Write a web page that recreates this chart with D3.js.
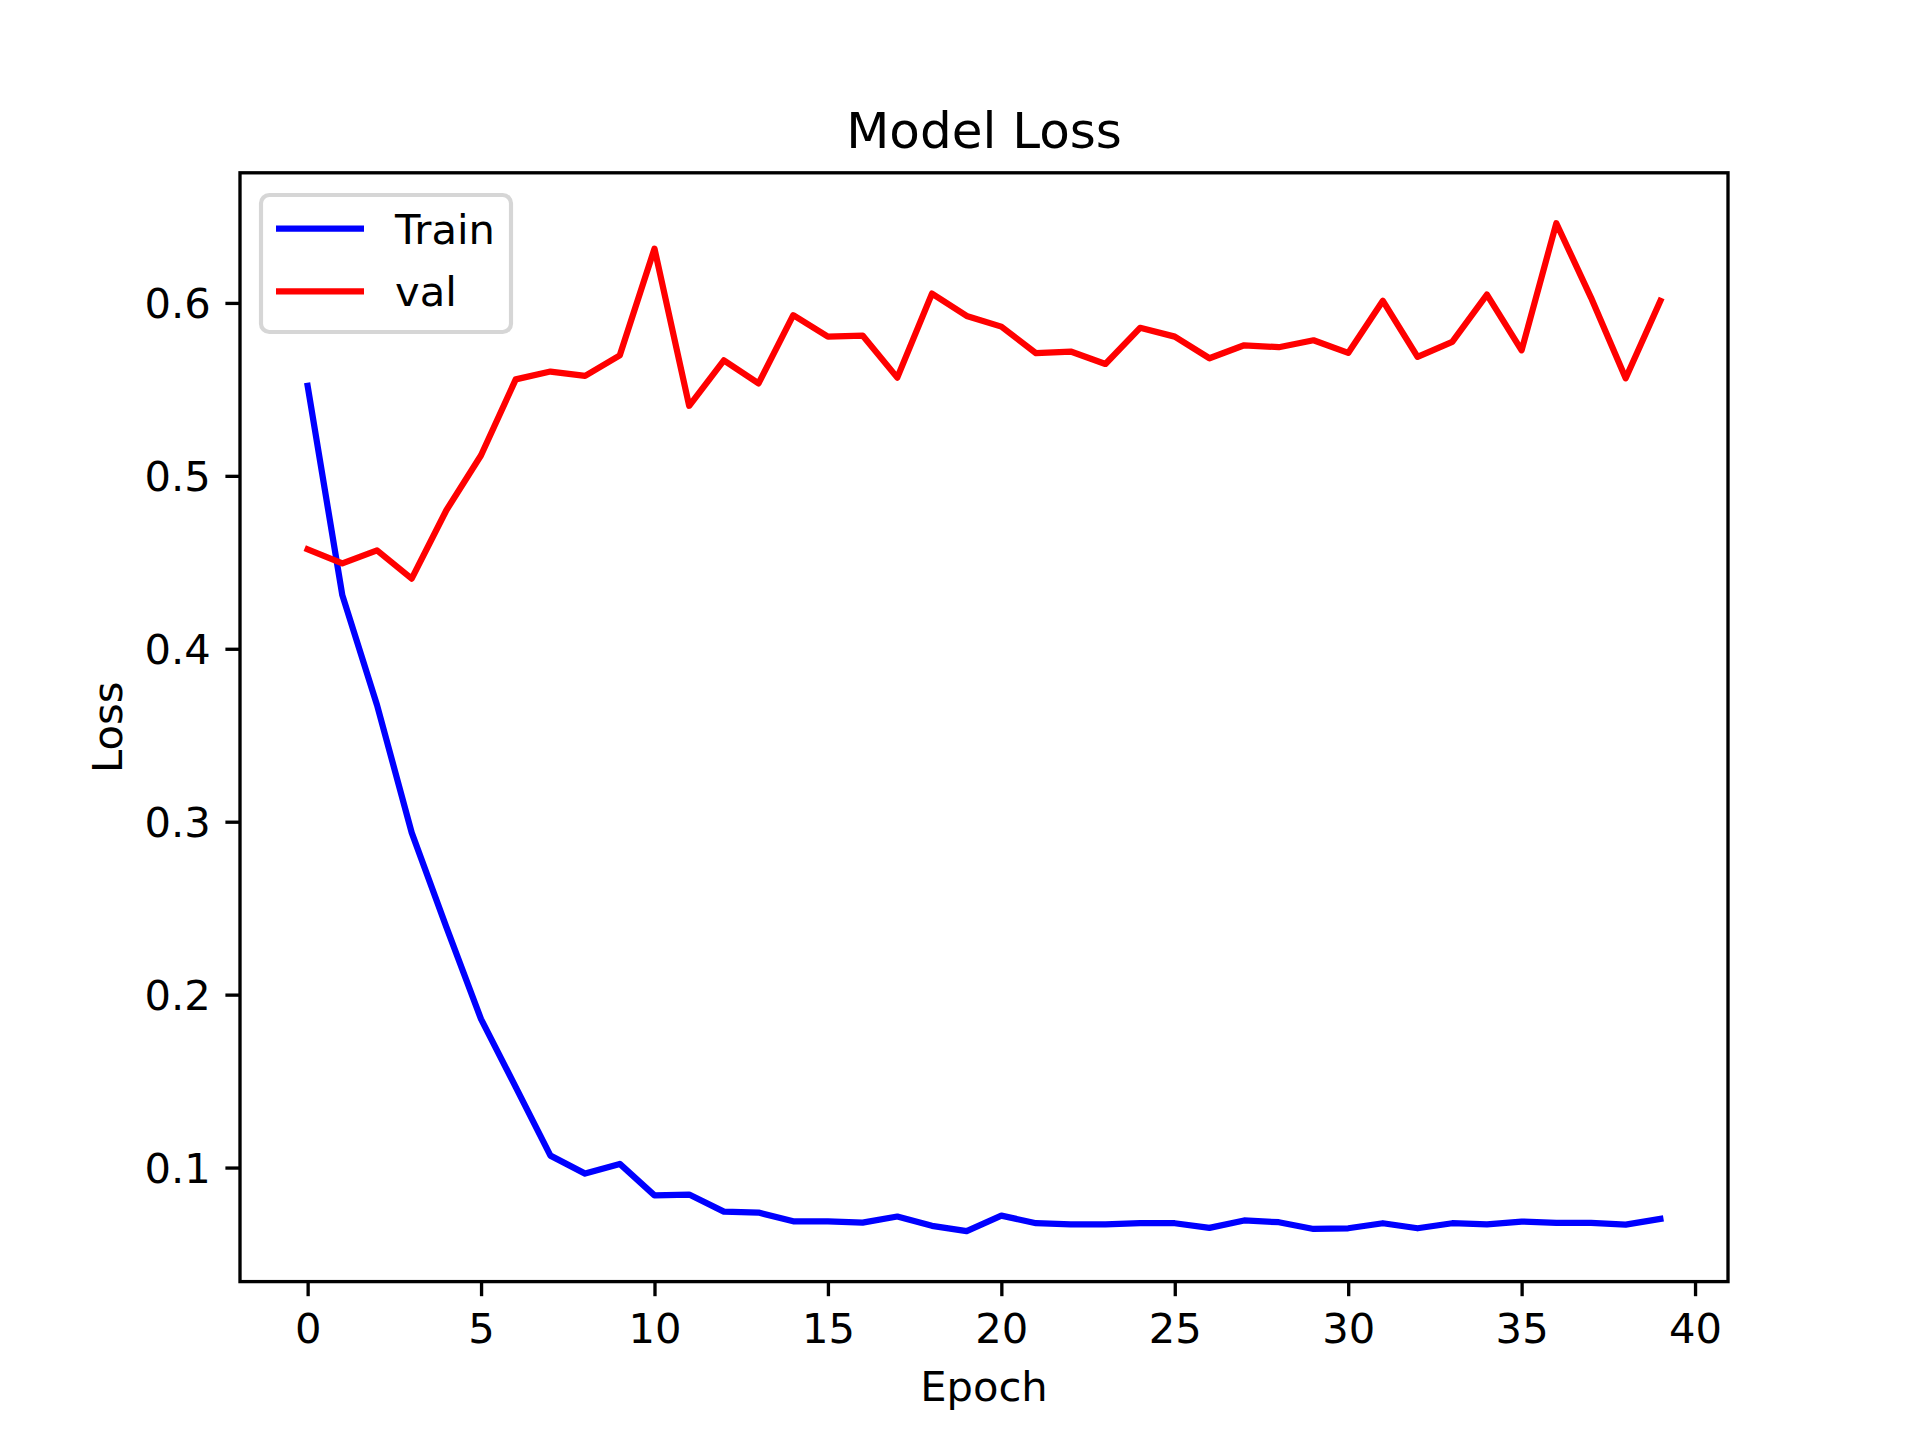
<!DOCTYPE html>
<html>
<head>
<meta charset="utf-8">
<script src="https://cdn.jsdelivr.net/npm/d3@7"></script>
<style>
  html, body { margin: 0; padding: 0; background: #fff; }
  svg { display: block; font-family: "DejaVu Sans", sans-serif; }
</style>
</head>
<body>
<svg id="chart" width="1920" height="1440"></svg>
<script>
const epochs = d3.range(40);
const trainLoss = [0.552, 0.431, 0.3675, 0.2937, 0.239, 0.1858, 0.1465, 0.1069, 0.0965, 0.1021,
  0.0839, 0.0844, 0.0745, 0.074, 0.0689, 0.0689, 0.0682, 0.0717, 0.0663, 0.0632,
  0.0722, 0.0678, 0.0672, 0.0672, 0.0678, 0.0678, 0.0651, 0.0694, 0.0684, 0.0645,
  0.0649, 0.0678, 0.0649, 0.0678, 0.0672, 0.0688, 0.068, 0.068, 0.067, 0.0703];
const valLoss = [0.4575, 0.4494, 0.4569, 0.4406, 0.4801, 0.5119, 0.5558, 0.5603, 0.5578, 0.5697,
  0.6314, 0.5405, 0.5668, 0.5535, 0.5929, 0.5805, 0.5811, 0.5568, 0.6054, 0.5925,
  0.5863, 0.5709, 0.5719, 0.5647, 0.5856, 0.5805, 0.568, 0.5755, 0.5744, 0.5784,
  0.5711, 0.6012, 0.5688, 0.5775, 0.6048, 0.5726, 0.6461, 0.6031, 0.5564, 0.6012];
const xTicks = [0, 5, 10, 15, 20, 25, 30, 35, 40];
const yTicks = [0.1, 0.2, 0.3, 0.4, 0.5, 0.6];
const seriesNames = ["Train", "val"];
const seriesColors = ["#0000ff", "#ff0000"];

const W = 1920, H = 1440;
const mLeft = 240, mRight = 1728, mTop = 172.8, mBottom = 1281.6;
const svg = d3.select("#chart");

// matplotlib-like 5% margins
const xMin = d3.min(epochs), xMax = d3.max(epochs);
const xPad = (xMax - xMin) * 0.05;
const allY = trainLoss.concat(valLoss);
const yMin = d3.min(allY), yMax = d3.max(allY);
const yPad = (yMax - yMin) * 0.05;

const x = d3.scaleLinear().domain([xMin - xPad, xMax + xPad]).range([mLeft, mRight]);
const y = d3.scaleLinear().domain([yMin - yPad, yMax + yPad]).range([mBottom, mTop]);

const fs = 41.67;
const lw = 6.25;
const spineW = 3.33;

// lines
const line = d3.line().x((d, i) => x(epochs[i])).y(d => y(d));
[trainLoss, valLoss].forEach((s, k) => {
  svg.append("path").datum(s)
    .attr("d", line)
    .attr("fill", "none")
    .attr("stroke", seriesColors[k])
    .attr("stroke-width", lw)
    .attr("stroke-linejoin", "round")
    .attr("stroke-linecap", "square");
});

// axes
const xAxis = d3.axisBottom(x).tickValues(xTicks).tickFormat(d3.format("d"))
  .tickSizeInner(14.6).tickSizeOuter(0).tickPadding(14.6);
const gx = svg.append("g").attr("transform", `translate(0,${mBottom})`).call(xAxis);
gx.select(".domain").remove();
gx.selectAll(".tick line").attr("stroke", "#000").attr("stroke-width", spineW);
gx.selectAll(".tick text").attr("font-size", fs).attr("fill", "#000")
  .attr("font-family", "DejaVu Sans").attr("dy", null).attr("y", 61.7)
  .attr("dominant-baseline", "alphabetic");

const yAxis = d3.axisLeft(y).tickValues(yTicks).tickFormat(d3.format(".1f"))
  .tickSizeInner(14.6).tickSizeOuter(0).tickPadding(14.6);
const gy = svg.append("g").attr("transform", `translate(${mLeft},0)`).call(yAxis);
gy.select(".domain").remove();
gy.selectAll(".tick line").attr("stroke", "#000").attr("stroke-width", spineW);
gy.selectAll(".tick text").attr("font-size", fs).attr("fill", "#000")
  .attr("font-family", "DejaVu Sans").attr("dy", "0.36em");

// spines
svg.append("rect")
  .attr("x", mLeft).attr("y", mTop)
  .attr("width", mRight - mLeft).attr("height", mBottom - mTop)
  .attr("fill", "none").attr("stroke", "#000").attr("stroke-width", spineW);

// title and labels
svg.append("text").attr("x", (mLeft + mRight) / 2).attr("y", 148)
  .attr("text-anchor", "middle").attr("font-size", 50).text("Model Loss");
svg.append("text").attr("x", (mLeft + mRight) / 2).attr("y", 1401)
  .attr("text-anchor", "middle").attr("font-size", fs).text("Epoch");
svg.append("text")
  .attr("transform", `translate(122,${(mTop + mBottom) / 2}) rotate(-90)`)
  .attr("text-anchor", "middle").attr("font-size", fs).text("Loss");

// legend
const lg = svg.append("g");
lg.append("rect")
  .attr("x", 261).attr("y", 195).attr("width", 250).attr("height", 137)
  .attr("rx", 8.3).attr("ry", 8.3)
  .attr("fill", "#fff").attr("fill-opacity", 0.8)
  .attr("stroke", "#d6d6d6").attr("stroke-width", 4.17);
seriesNames.forEach((name, i) => {
  const ly = 228.7 + i * 62.6;
  lg.append("line").attr("x1", 276).attr("x2", 364).attr("y1", ly).attr("y2", ly)
    .attr("stroke", seriesColors[i]).attr("stroke-width", lw);
  lg.append("text").attr("x", 395).attr("y", ly + 15)
    .attr("font-size", fs).text(name);
});
</script>
</body>
</html>
